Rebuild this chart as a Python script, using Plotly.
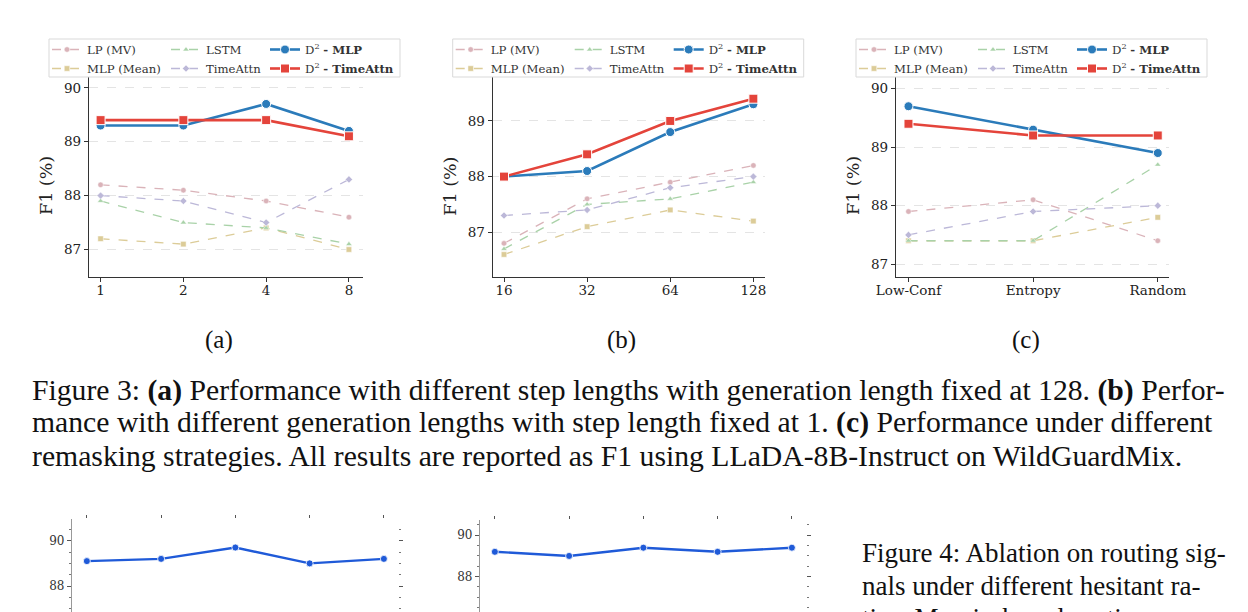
import plotly.graph_objects as go

W, H = 1248, 612
OFF = 8  # the page body margin shifts the figure by 8px


def px(x):
    return (x - OFF) / W


def py(y):
    return 1 - (y - OFF) / H


# ---- Figure 3 data ----
steps = ["1", "2", "4", "8"]
gen_lens = ["16", "32", "64", "128"]
strategies = ["Low-Conf", "Entropy", "Random"]

a_lp = [88.2, 88.1, 87.9, 87.6]
a_mlp_mean = [87.2, 87.1, 87.4, 87.0]
a_lstm = [87.9, 87.5, 87.4, 87.1]
a_timeattn = [88.0, 87.9, 87.5, 88.3]
a_d2_mlp = [89.3, 89.3, 89.7, 89.2]
a_d2_timeattn = [89.4, 89.4, 89.4, 89.1]

b_lp = [86.8, 87.6, 87.9, 88.2]
b_mlp_mean = [86.6, 87.1, 87.4, 87.2]
b_lstm = [86.7, 87.5, 87.6, 87.9]
b_timeattn = [87.3, 87.4, 87.8, 88.0]
b_d2_mlp = [88.0, 88.1, 88.8, 89.3]
b_d2_timeattn = [88.0, 88.4, 89.0, 89.4]

c_lp = [87.9, 88.1, 87.4]
c_mlp_mean = [87.4, 87.4, 87.8]
c_lstm = [87.4, 87.4, 88.7]
c_timeattn = [87.5, 87.9, 88.0]
c_d2_mlp = [89.7, 89.3, 88.9]
c_d2_timeattn = [89.4, 89.2, 89.2]

# ---- Figure 4 (cut off at page bottom) ----
ratio_idx = [0, 1, 2, 3, 4]
f4a_route = [89.1, 89.2, 89.7, 89.0, 89.2]
f4a_other = [None, None, None, 85.4, 86.7]
f4b_route = [89.2, 89.0, 89.4, 89.2, 89.4]
f4b_other = [None, None, None, None, 86.05]

series_names = ["LP (MV)", "MLP (Mean)", "LSTM", "TimeAttn",
                "D<sup>2</sup> <b>- MLP</b>", "D<sup>2</sup> <b>- TimeAttn</b>"]
colors = ["#dab3b9", "#dccc98", "#a9d2a8", "#bcb8d8", "#2b7bba", "#e4443b"]
symbols = ["circle", "square", "triangle-up", "diamond", "circle", "square"]
col_of = [0, 0, 1, 1, 2, 2]

panels = [
    dict(cats=steps, ys=[a_lp, a_mlp_mean, a_lstm, a_timeattn, a_d2_mlp, a_d2_timeattn],
         left=89, right=363, yr=[86.49, 90.2], xr=[-0.14, 3.17], yt=[87, 88, 89, 90], tag="(a)"),
    dict(cats=gen_lens, ys=[b_lp, b_mlp_mean, b_lstm, b_timeattn, b_d2_mlp, b_d2_timeattn],
         left=492.7, right=765, yr=[86.195, 89.79], xr=[-0.136, 3.14], yt=[87, 88, 89], tag="(b)"),
    dict(cats=strategies, ys=[c_lp, c_mlp_mean, c_lstm, c_timeattn, c_d2_mlp, c_d2_timeattn],
         left=896, right=1169, yr=[86.78, 90.2], xr=[-0.1, 2.09], yt=[87, 88, 89, 90], tag="(c)"),
]

fig = go.Figure()
layout = {}
annotations = []
shapes = []
serif = "DejaVu Serif"
times = "Liberation Serif"

top, bottom = 77, 277
col_offsets = [38, 157, 256]

for p, pan in enumerate(panels):
    n = p + 1
    sfx = "" if n == 1 else str(n)
    for k in range(6):
        main = k >= 4
        lg = p * 3 + col_of[k]
        fig.add_trace(go.Scatter(
            x=pan["cats"], y=pan["ys"][k], name=series_names[k],
            mode="lines+markers",
            line=dict(color=colors[k], width=2.6 if main else 1.3,
                      dash="solid" if main else "dash"),
            marker=dict(symbol=symbols[k], size=9 if main else 5.5, color=colors[k],
                        line=dict(color="white", width=1 if main else 0.5)),
            xaxis="x" + sfx, yaxis="y" + sfx,
            legend="legend" + ("" if lg == 0 else str(lg + 1)),
            cliponaxis=False,
        ))
    layout["xaxis" + sfx] = dict(
        domain=[px(pan["left"]), px(pan["right"])], anchor="y" + sfx,
        type="category", categoryarray=pan["cats"], range=pan["xr"], automargin=False,
        showline=True, linecolor="#333", linewidth=1.2, ticks="outside",
        ticklen=4, tickwidth=1, tickcolor="#333", showgrid=False, zeroline=False,
        ticklabelstandoff=-3,
        tickfont=dict(family=serif, size=13.5, color="#222"),
    )
    layout["yaxis" + sfx] = dict(
        domain=[py(bottom), py(top)], anchor="x" + sfx, range=pan["yr"], automargin=False,
        tickvals=pan["yt"], showline=True, linecolor="#333", linewidth=1.2,
        ticks="outside", ticklen=4, tickwidth=1, tickcolor="#333",
        showgrid=True, gridcolor="#e4e4e4", gridwidth=0.8, griddash="dash",
        zeroline=False, tickfont=dict(family=serif, size=13.5, color="#222"),
    )
    # legend frame and three legend columns
    box_left = pan["left"] - 40
    shapes.append(dict(type="rect", xref="paper", yref="paper",
                       x0=px(box_left), x1=px(box_left + 351), y0=py(77), y1=py(39),
                       line=dict(color="#d9d9d9", width=1), fillcolor="rgba(255,255,255,0.85)",
                       layer="above"))
    for c in range(3):
        idx = p * 3 + c
        key = "legend" + ("" if idx == 0 else str(idx + 1))
        layout[key] = dict(
            x=px(box_left + col_offsets[c] - 40), y=py(35), xanchor="left", yanchor="top",
            bgcolor="rgba(0,0,0,0)", borderwidth=0, tracegroupgap=0,
            font=dict(family=serif, size=11.7, color="#333"),
        )
    annotations.append(dict(text="F1 (%)", x=px(pan["left"] - 43), y=py(186),
                            xref="paper", yref="paper", showarrow=False, textangle=-90,
                            xanchor="center", yanchor="middle",
                            font=dict(family=serif, size=17.5, color="#222")))
    annotations.append(dict(text=pan["tag"], x=px((pan["left"] + pan["right"]) / 2 - 7), y=py(340),
                            xref="paper", yref="paper", showarrow=False,
                            xanchor="center", yanchor="middle",
                            font=dict(family=times, size=25, color="#111")))

caption = [
    "Figure 3: <b>(a)</b> Performance with different step lengths with generation length fixed at 128. <b>(b)</b> Perfor-",
    "mance with different generation lengths with step length fixed at 1. <b>(c)</b> Performance under different",
    "remasking strategies. All results are reported as F1 using LLaDA-8B-Instruct on WildGuardMix.",
]
for i, line in enumerate(caption):
    annotations.append(dict(text=line, x=px(30), y=py(390 + 32.8 * i), xref="paper", yref="paper",
                            xanchor="left", yanchor="middle", showarrow=False,
                            font=dict(family=times, size=29.7, color="#111")))

f4_caption = [
    "Figure 4: Ablation on routing sig-",
    "nals under different hesitant ra-",
    "tios. Margin-based routing con-",
]
for i, line in enumerate(f4_caption):
    annotations.append(dict(text=line, x=px(860), y=py(553 + 32.5 * i), xref="paper", yref="paper",
                            xanchor="left", yanchor="middle", showarrow=False,
                            font=dict(family=times, size=27, color="#111")))

# ---- Figure 4 small panels ----
f4 = [
    dict(route=f4a_route, other=f4a_other, left=72, right=398, top=519, yr=[86.5, 90.96]),
    dict(route=f4b_route, other=f4b_other, left=480, right=806, top=520, yr=[85.9, 90.74]),
]
for j, q in enumerate(f4):
    n = 4 + j
    m = 6 + j
    fig.add_trace(go.Scatter(
        x=ratio_idx, y=q["other"], mode="lines+markers", showlegend=False,
        line=dict(color="#c8c8c8", width=1.5), marker=dict(symbol="square", size=6, color="#c8c8c8"),
        xaxis="x%d" % n, yaxis="y%d" % n,
    ))
    fig.add_trace(go.Scatter(
        x=ratio_idx, y=q["route"], mode="lines+markers", showlegend=False,
        line=dict(color="#1f5ad8", width=2.4),
        marker=dict(symbol="circle", size=7, color="#1f5ad8", line=dict(color="white", width=0.8)),
        xaxis="x%d" % n, yaxis="y%d" % n,
    ))
    fig.add_trace(go.Scatter(x=[None], y=[None], showlegend=False, hoverinfo="skip",
                             xaxis="x%d" % m, yaxis="y%d" % m))
    xr = [-0.2, 4.19]
    xdom = [px(q["left"]), px(q["right"])]
    ydom = [0, py(q["top"])]
    layout["xaxis%d" % n] = dict(domain=xdom, anchor="y%d" % n, range=xr, showline=False, automargin=False,
                                 showgrid=False, zeroline=False, showticklabels=False, ticks="")
    layout["yaxis%d" % n] = dict(domain=ydom, anchor="x%d" % n, range=q["yr"], tickvals=[86, 88, 90],
                                 showline=True, linecolor="#999", linewidth=1.2, ticks="outside",
                                 ticklen=4, tickcolor="#555", showgrid=False, zeroline=False,
                                 automargin=False,
                                 minor=dict(dtick=0.5, ticklen=2, tickcolor="#777", ticks="outside"),
                                 tickfont=dict(family=serif, size=12, color="#333"))
    layout["xaxis%d" % m] = dict(overlaying="x%d" % n, side="top", anchor="y%d" % n, range=xr,
                                 tickvals=ratio_idx, ticks="outside", ticklen=3, tickcolor="#555",
                                 automargin=False,
                                 showticklabels=False, showline=False, showgrid=False, zeroline=False)
    layout["yaxis%d" % m] = dict(overlaying="y%d" % n, side="right", anchor="x%d" % n, range=q["yr"],
                                 tickvals=[86, 88, 90], ticks="outside", ticklen=4, tickcolor="#555",
                                 automargin=False,
                                 minor=dict(dtick=0.5, ticklen=2, tickcolor="#777", ticks="outside"),
                                 showticklabels=False, showline=False, showgrid=False, zeroline=False)

fig.update_layout(
    template="none",
    width=W, height=H, margin=dict(l=0, r=0, t=0, b=0, pad=0),
    paper_bgcolor="white", plot_bgcolor="white",
    annotations=annotations, shapes=shapes, **layout,
)

fig.write_html("out.html")
